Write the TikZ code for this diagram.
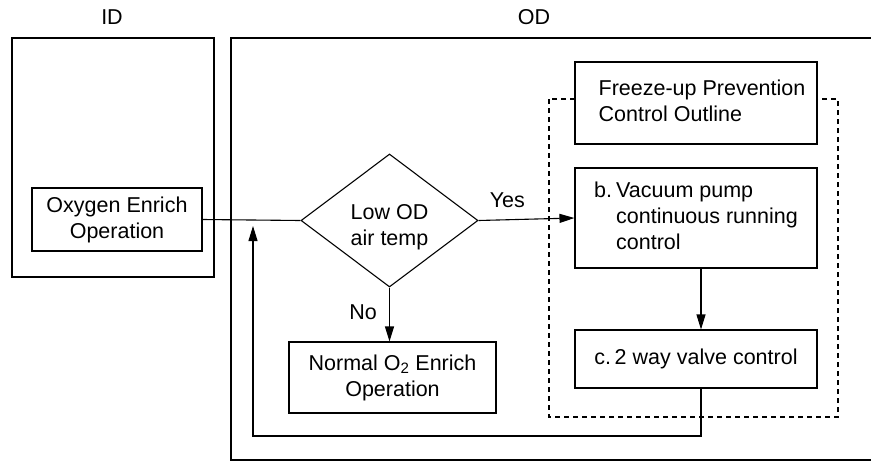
\documentclass[tikz,border=0pt]{standalone}
\usepackage{fontspec}
\setmainfont{Liberation Sans}
\usetikzlibrary{shapes.geometric,arrows.meta}
\begin{document}
\begin{tikzpicture}[x=1pt,y=-1pt,
  every node/.style={font=\fontsize{21.5}{26}\selectfont},
  box/.style={draw, fill=white, line width=1.1pt, inner sep=0pt, align=center},
  ln/.style={line width=1.1pt},
  dashbox/.style={line width=1.1pt, dash pattern=on 5pt off 4pt},
  arr/.style={line width=1.1pt, -{Triangle[length=15pt,width=9pt]}},
  ]
\useasboundingbox (0,0) rectangle (871,461);
% region labels and frames
\node (idlab) at (112,17.5) {ID};
\node (odlab) at (534,17.5) {OD};
\draw[ln] (12,38) rectangle (214,277);
\draw[ln] (871,38) -- (231,38) -- (231,460) -- (871,460);
\draw[dashbox] (549,99) rectangle (838,417);
% nodes
\node[box, minimum width=170, minimum height=63] (oxy) at (117,219.5) {Oxygen Enrich\\Operation};
\node[draw, diamond, aspect=1.33, minimum width=177, minimum height=133, inner sep=0pt, line width=1.1pt] (dia) at (389.5,220.5) {};
\node[align=center, inner sep=0pt] (diatext) at (389.5,227) {Low OD\\air temp};
\node[box, minimum width=207, minimum height=71] (norm) at (392.5,377.5) {Normal O\textsubscript{2} Enrich\\Operation};
\node[box, minimum width=242, minimum height=82] (fz) at (696,103) {\begin{tabular}{@{\hspace{12pt}}l@{}}Freeze-up Prevention\\Control Outline\end{tabular}};
\node[box, minimum width=242, minimum height=100] (b) at (696,218) {\begin{tabular}{@{}p{22pt}@{}l@{}}b. & Vacuum pump\\ & continuous running\\ & control\end{tabular}};
\node[box, minimum width=242, minimum height=58] (c) at (696,359) {c.\,2 way valve control};
\coordinate (bc) at (701,0);
\coordinate (tip) at (253,226);
\coordinate (looprow) at (0,436);
% connectors
\draw[ln] (oxy.east) -- (dia.west);
\draw[arr] (dia.east) -- node[above=11pt, pos=0.3, inner sep=0pt] (yes) {Yes} (b.west);
\draw[arr] (dia.south) -- node[left=12pt, pos=0.45, inner sep=0pt] (no) {No} (dia.south |- norm.north);
\draw[arr] (b.south -| bc) -- (c.north -| bc);
\draw[arr] (c.south -| bc) |- (looprow -| tip) -- (tip);
\end{tikzpicture}
\end{document}
